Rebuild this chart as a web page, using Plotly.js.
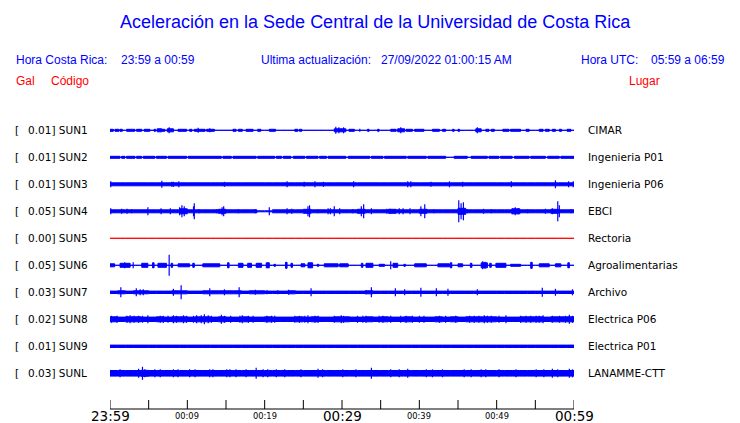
<!DOCTYPE html>
<html>
<head>
<meta charset="utf-8">
<script src="https://cdn.plot.ly/plotly-3.0.1.min.js"></script>
<style>html,body{margin:0;padding:0;background:#fff}#chart{width:740px;height:423px}</style>
</head>
<body>
<div id="chart"></div>
<script>
// ---------------- DATA ----------------
const codes  = ["SUN1","SUN2","SUN3","SUN4","SUN5","SUN6","SUN7","SUN8","SUN9","SUNL"];
const scales = ["0.01","0.01","0.01","0.05","0.00","0.05","0.03","0.02","0.01","0.03"];
const places = ["CIMAR","Ingenieria P01","Ingenieria P06","EBCI","Rectoria","Agroalimentarias","Archivo","Electrica P06","Electrica P01","LANAMME-CTT"];
const traceColors = ["#0000ff","#0000ff","#0000ff","#0000ff","#ff0000","#0000ff","#0000ff","#0000ff","#0000ff","#0000ff"];

const tickMinutes = [0,5,10,15,20,25,30,35,40,45,50,55,60];
const labelMinutes = [0,10,20,30,40,50,60];
const labelTexts = ["23:59","00:09","00:19","00:29","00:39","00:49","00:59"];
const labelMajor = [true,false,false,true,false,false,true];

// per-minute background half amplitude of each trace (screen-pixel units)
const sun1Env = [0,0,0,0,0,0,0,0,0,0, 0,0,0,0,0,0,0,0,0,0, 0,0,0,0,0,0,0,0,0,0, 0,0,0,0,0,0,0,0,0,0, 0,0,0,0,0,0,0,0,0,0, 0,0,0,0,0,0,0,0,0,0];
const sun2Env = [0,0,0,0,0,0,0,0,0,0, 0,0,0,0,0,0,0,0,0,0, 0,0,0,0,0,0,0,0,0,0, 0,0,0,0,0,0,0,0,0,0, 0,0,0,0,0,0,0,0,0,0, 0,0,0,0,0,0,0,0,0,0];
const sun3Env = [1.5,1.5,1.5,1.5,1.5,1.5,1.5,1.5,1.5,1.5, 1.5,1.5,1.5,1.5,1.5,1.5,1.5,1.5,1.5,1.5, 1.5,1.5,1.5,1.5,1.5,1.5,1.5,1.5,1.5,1.5, 1.5,1.5,1.5,1.5,1.5,1.5,1.5,1.5,1.5,1.5, 1.5,1.5,1.5,1.5,1.5,1.5,1.5,1.5,1.5,1.5, 1.5,1.5,1.5,1.5,1.5,1.5,1.5,1.5,1.5,1.5];
const sun4Env = [1.5,1.5,1.5,1.5,1.5,1.5,1.5,1.5,1.5,2.5, 1.5,1.5,1.5,1.5,2,1.5,1.5,1.5,1.5,0.5, 0.5,1.5,1.5,1.5,1.5,2,1.5,1.5,1.5,1.5, 1.5,1.5,2,1.5,1.5,1.5,2,1.5,1.5,1.5, 2,1.5,1.5,1.5,1.5,3,1.5,1.5,1.5,1.5, 1.5,1.5,2.5,1.5,1.5,1.5,1.5,2,1.5,1.5];
const sun5Env = [0,0,0,0,0,0,0,0,0,0, 0,0,0,0,0,0,0,0,0,0, 0,0,0,0,0,0,0,0,0,0, 0,0,0,0,0,0,0,0,0,0, 0,0,0,0,0,0,0,0,0,0, 0,0,0,0,0,0,0,0,0,0];
const sun6Env = [0,0,0,0,0,0,0,0,0,0, 0,0,0,0,0,0,0,0,0,0, 0,0,0,0,0,0,0,0,0,0, 0,0,0,0,0,0,0,0,0,0, 0,0,0,0,0,0,0,0,0,0, 0,0,0,0,0,0,0,0,0,0];
const sun7Env = [1.2,1.5,1.2,1.5,1.5,1.2,1.2,1.2,1.5,1.5, 1.2,1.2,1.5,1.5,1.5,1.5,1.5,1.2,1.5,1.5, 1.2,1.2,1.2,1.5,1.2,1.2,1.2,1.2,1.2,1.2, 1.2,1.2,1.2,1.5,1.2,1.2,1.2,1.2,1.2,1.2, 1.2,1.2,1.2,1.2,1.2,1.2,1.2,1.2,1.2,1.2, 1.2,1.2,1.2,1.2,1.2,1.2,1.2,1.2,1.2,1.2];
const sun8Env = [2.5,2.2,2.5,2.5,2.2,2.2,2.5,2.2,2.5,2.5, 2.2,2.5,2.5,2.2,2.5,2.2,2.2,2.5,2.2,2.2, 2.5,2.2,2.2,2.2,2.5,2.2,2.5,2.2,2.2,2.5, 2.5,2.2,2.2,2.5,2.2,2.5,2.2,2.2,2.5,2.2, 2.2,2.2,2.5,2.2,2.5,2.2,2.5,2.5,2.5,2.5, 2.2,2.2,2.2,2.5,2.5,2.5,2.2,2.5,2.5,2.5];
const sun9Env = [1.2,1.2,1.2,1.2,1.2,1.2,1.2,1.2,1.2,1.2, 1.2,1.2,1.2,1.2,1.2,1.2,1.2,1.2,1.2,1.2, 1.2,1.2,1.2,1.2,1.2,1.2,1.2,1.2,1.2,1.2, 1.2,1.2,1.2,1.2,1.2,1.2,1.2,1.2,1.2,1.2, 1.2,1.2,1.2,1.2,1.2,1.2,1.2,1.2,1.2,1.2, 1.2,1.2,1.2,1.2,1.2,1.2,1.2,1.2,1.2,1.2];
const sunLEnv = [2.8,2.8,2.8,2.8,3,2.8,2.8,2.8,2.8,2.8, 2.8,2.8,2.8,2.8,2.8,2.8,2.8,2.8,2.8,2.8, 2.8,2.8,2.8,2.8,2.8,2.8,2.8,2.8,2.8,2.8, 2.8,2.8,2.8,2.8,2.8,2.8,2.8,2.8,2.8,2.8, 2.8,2.8,2.8,2.8,2.8,2.8,2.8,2.8,2.8,2.8, 2.8,2.8,2.8,2.8,2.8,2.8,2.8,2.8,2.8,2.8];

// bursts: [start minute, end minute, half amplitude in pixels]
const sun1Bursts = [[0,0.43,1],[0.65,1.16,1],[1.29,1.6,1],[2.15,3.2,1],[3.44,4.1,1],[4.43,5.16,1],[5.7,5.9,1],[6.1,6.7,1.5],[6.75,7.1,1],[7.4,8.2,1.5],[8.8,9.9,1],[10.3,10.6,1],[10.9,12.3,1],[12.5,13.5,1],[15.9,16.3,1],[16.6,17.1,1],[17.6,18.5,1],[19.1,19.5,1],[20.6,21.4,1],[23.9,24.3,1],[24.5,24.8,1],[29.0,30.5,1.5],[30.9,31.6,1],[33.3,33.5,1],[34.6,34.8,1],[36.3,37.0,1],[37.2,38.1,1.5],[38.3,39.1,1],[39.4,40.6,1],[41.7,42.6,1],[43.0,43.4,1],[44.3,44.5,1],[45.0,45.2,1],[47.3,48.0,1.5],[48.6,49.0,1],[49.3,49.7,1],[50.8,51.6,1],[51.8,53.1,1],[53.8,54.2,1],[55.5,56.0,1],[56.3,56.8,1],[57.2,57.6,1],[58.1,58.4,1],[59.1,59.6,1]];
const sun2Bursts = [[0,1.29,1],[1.5,1.94,1],[2.15,3.23,1],[3.44,4.09,1],[4.3,5.8,1],[6.0,7.3,1],[7.5,9.9,1],[10.1,14.4,1],[14.6,15.7,1],[15.9,18.9,1],[19.1,21.3,1],[21.5,22.2,1],[22.4,23.4,1],[23.7,25.2,1],[25.4,26.9,1],[27.1,28,1],[28.2,30.5,1],[30.8,33.6,1],[33.8,35.3,1],[35.5,38.3,1],[38.5,40.9,1],[41.1,43.4,1],[44.5,46.2,1],[46.7,48.8,1],[49,50.3,1],[50.5,52,1],[52.3,54.2,1],[54.4,56.3,1],[56.6,58.1,1],[58.3,60,1]];
const sun3Bursts = [];
const sun4Bursts = [];
const sun5Bursts = [];
const sun6Bursts = [[0,0.6,1.5],[1.3,2.6,2],[4.1,4.9,2],[5.5,5.7,2.5],[6.2,7.3,2],[7.9,8.1,2],[8.8,10.3,1.5],[10.7,10.9,2],[12,14.2,1.5],[15.2,15.4,2.5],[16.6,17.2,2],[17.8,18.3,2],[18.9,19.6,2],[20.2,20.6,2.5],[21.2,21.4,1],[22.7,22.9,3],[23.4,23.6,2],[24.7,25.2,1.5],[25.6,26.2,2.5],[26.8,27,1],[27.7,29.5,1.5],[29.7,30.8,1.5],[32.5,32.7,2],[33.1,34,2],[34.8,35.5,1],[36.6,37.2,2],[38,38.2,1],[39.4,40.9,1.5],[42.4,43.9,1.5],[44,44.2,2.5],[45,45.6,1.5],[46.6,46.8,2],[48,48.8,2.5],[49.1,49.3,2],[49.9,51.2,2],[51.8,53.1,1],[54.4,54.6,3],[55.5,56.8,1.5],[57.6,58.3,1.5],[59.2,59.4,2.5]];
const sun7Bursts = [];
const sun8Bursts = [];
const sun9Bursts = [];
const sunLBursts = [];

// short spikes: [minute, half amplitude in pixels]
const sun1Spikes = [[7.65,3],[11.4,2.5],[12.9,2],[29.2,3.5],[29.6,3],[30.2,3],[32.3,1.5],[37.6,3],[47.5,3]];
const sun2Spikes = [];
const sun3Spikes = [[0.1,3],[6.7,3.5],[8,2.5],[8.2,2.5],[8.9,3],[14.8,2.5],[22.9,3],[25.1,2.5],[26.5,3],[27.6,2.5],[31.5,3],[38.5,3],[38.9,3],[41.5,2.5],[43.9,3],[45.6,2.5],[51.9,3],[57.6,4],[59.3,3],[59.9,3]];
const sun4Spikes = [[0.1,3],[1.5,2.5],[2.2,2.5],[2.8,2],[4.9,4],[6.6,3],[7.8,3],[9.0,4],[9.3,6],[9.6,5],[10.8,5],[10.9,8],[11.5,2],[13.8,2],[14.5,4],[14.7,5],[16.6,2],[18.8,2],[20.6,4],[22.9,3],[23.5,2.5],[25.6,5],[25.8,6],[26.9,2],[28.2,3],[28.5,3],[29.0,5],[29.7,3],[31.4,2],[32.0,2],[32.5,5],[32.8,7],[33.8,3],[35.8,2.5],[36.2,2.5],[37.4,3],[37.9,3],[38.8,3],[40.2,5],[40.7,7],[41.9,2],[45.1,11],[45.4,8],[45.7,9],[46.2,2],[48.3,2.5],[49.3,2],[52.0,3],[52.4,4],[52.8,3],[54,2],[56.3,2.5],[57.2,3],[57.9,10],[58.1,6],[59.6,2]];
const sun5Spikes = [];
const sun6Spikes = [[1.9,3],[3,3],[5.6,2.5],[7.65,10.5],[10.8,2],[15.3,2.5],[20.4,2.5],[22.8,3],[25.9,2.5],[36.3,4],[44.1,2.5],[46.7,2],[48.2,4],[48.5,3.5],[54.5,3],[59.3,2.5]];
const sun7Spikes = [[1.4,5],[3.4,4],[3.9,3],[4.3,3],[8.2,3.5],[9.2,7],[12.9,4],[14.8,3],[16.7,5],[18.8,2.5],[20.3,2],[21.7,2],[23.1,2.5],[26,4],[33.1,2],[33.8,5],[36.9,4],[38.1,3],[40.2,4.5],[42.2,4],[43.7,3.5],[47.5,3],[55.9,4.5],[57.6,3.5],[59.8,3]];
const sun8Spikes = [[0.2,3.5],[0.9,3.5],[2.2,3.5],[2.6,4],[3.1,3.5],[3.7,3.5],[4.2,3.5],[4.9,4],[6.5,3.5],[6.9,3.5],[7.5,3.5],[8.2,4],[8.6,3.5],[9.5,4],[9.9,3.5],[10.8,3.5],[11.2,4],[11.8,4],[12.2,5],[12.7,4],[13.1,3.5],[14.4,4.5],[14.8,3.5],[15.6,3.5],[16.8,3.5],[17.1,4],[17.9,3.5],[18.5,3.5],[20.3,3.5],[20.9,3.5],[21.3,3.5],[23.9,3.5],[24.5,3.5],[25.2,3.5],[25.6,4],[26.5,3.5],[26.9,3.5],[29.0,3.5],[29.9,4],[30.2,3.5],[32.0,3.5],[32.7,3.5],[33.1,3.5],[34.8,3.5],[35.3,3.5],[36.3,3.5],[37.6,3.5],[38.3,3.5],[39.1,3.5],[40.0,3.5],[40.6,3.5],[42.6,3.5],[43.4,3.5],[44.7,3.5],[46.5,3.5],[47.1,3.5],[47.7,3.5],[48.4,4],[48.8,3.5],[49.3,3.5],[50.3,3.5],[51.2,4],[53.1,3.5],[53.8,3.5],[54.4,3.5],[55.1,3.5],[55.5,3.5],[56.0,4],[57.2,3.5],[58.1,3.5],[58.9,3.5],[59.4,4.5],[59.8,3.5]];
const sun9Spikes = [];
const sunLSpikes = [[1.3,4],[3.7,4.5],[4.2,6.5],[4.5,4],[5.8,4],[6.5,4],[8.2,4],[8.8,4],[10.3,4],[11.0,4],[12.9,4],[13.3,4],[15.1,4],[15.5,4],[16.3,4],[17.6,4],[18.9,5.5],[19.8,4],[20.4,4],[21.5,4],[22.6,4],[24.7,4],[26.9,4.5],[27.5,4],[30.1,4],[31.8,4],[33.8,5.5],[36.3,4],[37.4,4],[38.5,4.5],[40.9,4],[41.7,4],[43.0,4],[45.8,4],[46.7,4],[48.0,4],[48.6,4],[50.3,4],[52.5,4],[55.1,4],[56.1,4],[57.2,4.5],[57.9,4],[59.4,4.5],[59.8,4]];

const envelopes = [sun1Env,sun2Env,sun3Env,sun4Env,sun5Env,sun6Env,sun7Env,sun8Env,sun9Env,sunLEnv];
const bursts = [sun1Bursts,sun2Bursts,sun3Bursts,sun4Bursts,sun5Bursts,sun6Bursts,sun7Bursts,sun8Bursts,sun9Bursts,sunLBursts];
const spikes = [sun1Spikes,sun2Spikes,sun3Spikes,sun4Spikes,sun5Spikes,sun6Spikes,sun7Spikes,sun8Spikes,sun9Spikes,sunLSpikes];

// ---------------- LAYOUT GEOMETRY ----------------
const W = 740, H = 423;
const L = 110, R = 166, T = 100, B = 14;
const plotW = W - L - R, plotH = H - T - B;
const ROW = 27;            // pixels between rows
const FIRST = 130.3;       // pixel centre of first row
const PX = 1 / ROW;        // one pixel in row units
const yTop = (T - FIRST) / ROW;
const yBot = yTop + plotH / ROW;
const px2paperX = p => (p - L) / plotW;
const py2paperY = p => (H - B - p) / plotH;

const traces = [];
envelopes.forEach((env, k) => {
  const col = traceColors[k];
  const xs = [], ys = [];
  for (let i = 0; i < env.length; i++) { xs.push(i, i + 1); ys.push(k - env[i] * PX, k - env[i] * PX); }
  for (let i = env.length - 1; i >= 0; i--) { xs.push(i + 1, i); ys.push(k + env[i] * PX, k + env[i] * PX); }
  xs.push(xs[0]); ys.push(ys[0]);
  traces.push({x: xs, y: ys, type: 'scatter', mode: 'lines', fill: 'toself',
    fillcolor: col, line: {color: col, width: 1, simplify: false}, hoverinfo: 'skip', showlegend: false});
  if (bursts[k].length) {
    const bx = [], by = [];
    bursts[k].forEach(([t0, t1, a]) => {
      bx.push(t0, t1, t1, t0, t0, null);
      by.push(k - a * PX, k - a * PX, k + a * PX, k + a * PX, k - a * PX, null);
    });
    traces.push({x: bx, y: by, type: 'scatter', mode: 'lines', fill: 'toself', fillcolor: col,
      line: {color: col, width: 1, simplify: false}, connectgaps: false, hoverinfo: 'skip', showlegend: false});
  }
  if (spikes[k].length) {
    const sx = [], sy = [];
    spikes[k].forEach(([t, a]) => { sx.push(t, t, null); sy.push(k - a * PX, k + a * PX, null); });
    traces.push({x: sx, y: sy, type: 'scatter', mode: 'lines',
      line: {color: col, width: 1.2, simplify: false}, hoverinfo: 'skip', showlegend: false});
  }
});

const ann = [];
const blue = '#0000ff', red = '#ff0000';
const sans = 'Liberation Sans, Arial, sans-serif';
const dv = 'DejaVu Sans, sans-serif';
function txt(text, px, py, size, color, family, anchor) {
  ann.push({text, xref: 'paper', yref: 'paper', x: px2paperX(px), y: py2paperY(py),
    xanchor: anchor || 'left', yanchor: 'middle', showarrow: false, borderpad: 0,
    font: {size, color, family}});
}
txt('Aceleración en la Sede Central de la Universidad de Costa Rica', 375, 22, 18, blue, sans, 'center');
txt('Hora Costa Rica:', 15, 60, 12, blue, sans);
txt('23:59 a 00:59', 120, 60, 12, blue, sans);
txt('Ultima actualización:', 260, 60, 12, blue, sans);
txt('27/09/2022 01:00:15 AM', 380, 60, 12, blue, sans);
txt('Hora UTC:', 580, 60, 12, blue, sans);
txt('05:59 a 06:59', 650, 60, 12, blue, sans);
txt('Gal', 15, 81, 12, red, sans);
txt('Código', 50, 81, 12, red, sans);
txt('Lugar', 628, 81, 12, red, sans);

codes.forEach((c, k) => {
  const py = FIRST + k * ROW;
  txt('[', 14, py, 10.5, '#000', dv);
  txt(scales[k] + '] ' + c, 27, py, 10.5, '#000', dv);
  txt(places[k], 587, py, 10.5, '#000', dv);
});

labelMinutes.forEach((m, i) => {
  ann.push({text: labelTexts[i], xref: 'x', yref: 'paper', x: m, y: py2paperY(416),
    xanchor: 'center', yanchor: 'middle', showarrow: false, borderpad: 0,
    font: {size: labelMajor[i] ? 13.5 : 8.3, color: '#000', family: dv}});
});

// time axis: baseline and upward tick marks
const shapes = [{type: 'line', xref: 'x', yref: 'paper', x0: 0, x1: 60, y0: py2paperY(409), y1: py2paperY(409),
  line: {color: '#000', width: 1}}];
tickMinutes.forEach(m => shapes.push({type: 'line', xref: 'x', yref: 'paper', x0: m, x1: m,
  y0: py2paperY(409), y1: py2paperY(400), line: {color: '#000', width: 1}}));

const layout = {
  width: W, height: H,
  margin: {l: L, r: R, t: T, b: B, pad: 0},
  paper_bgcolor: '#fff', plot_bgcolor: '#fff',
  showlegend: false,
  xaxis: {range: [0, 60], visible: false, showgrid: false, zeroline: false, fixedrange: true},
  yaxis: {range: [yBot, yTop], visible: false, showgrid: false, zeroline: false, fixedrange: true},
  shapes: shapes,
  annotations: ann
};
Plotly.newPlot('chart', traces, layout, {staticPlot: true, displayModeBar: false});
</script>
</body>
</html>
